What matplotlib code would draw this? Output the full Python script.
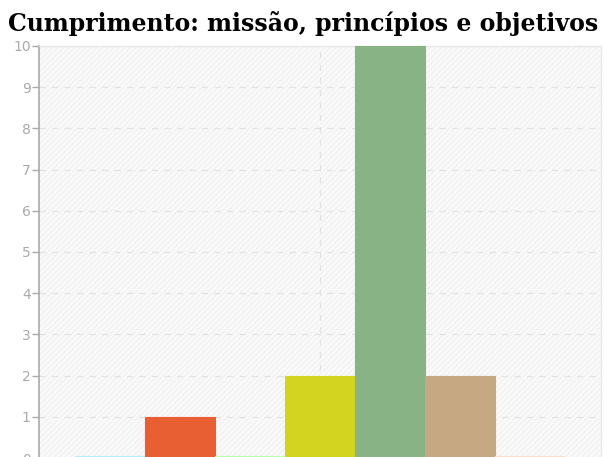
import numpy as np
import matplotlib
matplotlib.use("Agg")
import matplotlib.pyplot as plt
from matplotlib.patches import Rectangle

# --- dados ---
titulo = "Cumprimento: missão, princípios e objetivos"
series = ["A", "B", "C", "D", "E", "F", "G"]
valores = [0, 1, 0, 2, 10, 2, 0]
cores = ["#b8ecff", "#e85f33", "#b8ffb0", "#d2d41f", "#87b385", "#c6a983", "#ffdccc"]
yticks = list(range(0, 11))

plt.rcParams['hatch.linewidth'] = 0.6

fig = plt.figure(figsize=(6.07, 4.57), dpi=100)
ax = fig.add_axes([39 / 607, -1 / 457, 562 / 607, 412 / 457])

# fundo com riscas diagonais
ax.set_facecolor("#f9f9f9")
bg = Rectangle((0, 0), 1, 1, transform=ax.transAxes, facecolor="#f9f9f9",
               edgecolor="#eeeeee", hatch="//////", linewidth=0, zorder=0)
ax.add_patch(bg)

n = len(valores)
largura = 70 / 562  # em unidades do eixo (xlim 0..1)
x0 = 0.5 - n * largura / 2
xs = [x0 + i * largura + largura / 2 for i in range(n)]
for x, v, c in zip(xs, valores, cores):
    ax.bar(x, v, width=largura, color=c, edgecolor=c, linewidth=3 if v == 0 else 0.8,
           zorder=3, clip_on=False)

ax.set_xlim(0, 1)
ax.set_ylim(0, 10)
ax.set_yticks(yticks)
ax.set_xticks([0.5])
ax.set_xticklabels([])
ax.tick_params(axis="x", length=0)
ax.tick_params(axis="y", colors="#aaaaaa", labelsize=10, length=5, width=1, pad=1)
ax.grid(True, linestyle=(0, (5, 5)), color="#e2e2e2", linewidth=0.9, zorder=1)
ax.set_axisbelow(True)

for s in ["top", "right"]:
    ax.spines[s].set_color("#e6e6e6")
ax.spines["bottom"].set_visible(False)
ax.spines["left"].set_color("#aaaaaa")
ax.spines["left"].set_linewidth(1.2)

fig.text(0.5, 1 - 24 / 457, titulo, ha="center", va="center", fontsize=17,
         fontweight="bold", family="DejaVu Serif")

fig.savefig("out.png", dpi=100)
